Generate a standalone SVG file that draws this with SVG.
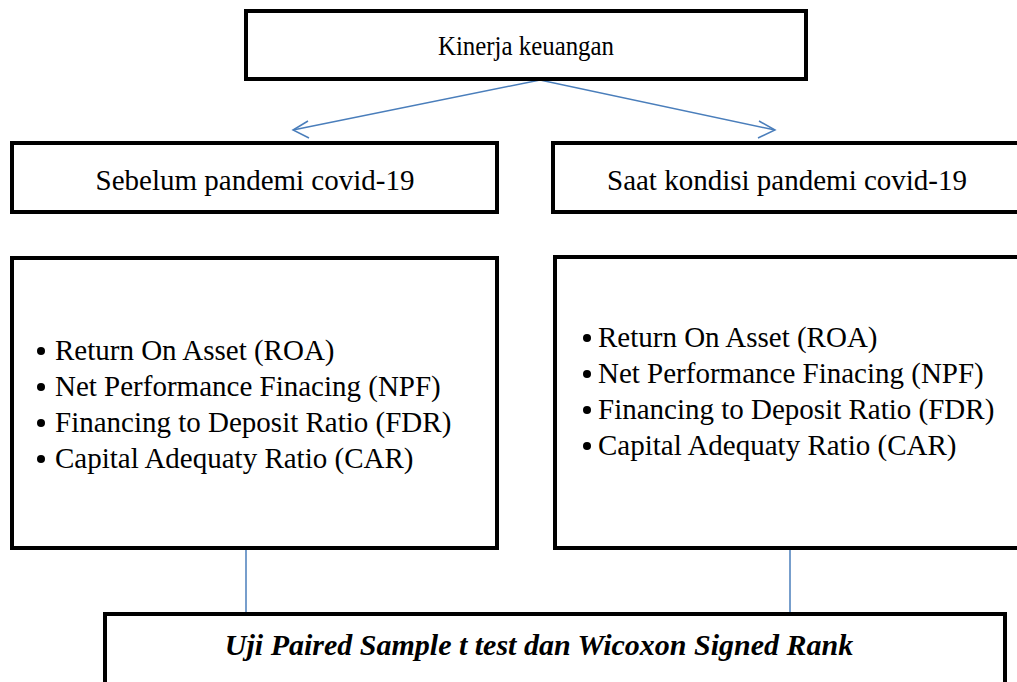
<svg xmlns="http://www.w3.org/2000/svg" width="1017" height="682" viewBox="0 0 1017 682">
<style>
.box{fill:#fff;stroke:#000;stroke-width:4}
.t{font-family:"Liberation Serif","Times New Roman",serif;fill:#000}
.c{stroke:#4a7ebb;stroke-width:1.5;fill:none}
</style>
<rect width="1017" height="682" fill="#fff"/>
<g id="connectors">
<polyline class="c" points="293,130 540,80 775,130"/>
<polyline class="c" points="308,121 293,130 309,138"/>
<polyline class="c" points="759,121 775,130 758,138"/>
<line class="c" x1="246" y1="548" x2="246" y2="613"/>
<line class="c" x1="790" y1="548" x2="790" y2="613"/>
</g>
<g id="kinerja">
<rect class="box" x="246" y="11" width="560" height="68"/>
<text class="t" x="526" y="55" font-size="27" text-anchor="middle" textLength="176" lengthAdjust="spacingAndGlyphs">Kinerja keuangan</text>
</g>
<g id="sebelum">
<rect class="box" x="12" y="143" width="485" height="69"/>
<text class="t" x="255" y="190" font-size="29" text-anchor="middle">Sebelum pandemi covid-19</text>
</g>
<g id="saat">
<rect class="box" x="553" y="143" width="470" height="69"/>
<text class="t" x="607" y="190" font-size="29">Saat kondisi pandemi covid-19</text>
</g>
<g id="indikator-sebelum">
<rect class="box" x="12" y="258" width="485" height="290"/>
<g class="t" font-size="29">
<circle cx="41" cy="351" r="4"/><text x="55" y="360">Return On Asset (ROA)</text>
<circle cx="41" cy="387" r="4"/><text x="55" y="396">Net Performance Finacing (NPF)</text>
<circle cx="41" cy="423" r="4"/><text x="55" y="432">Financing to Deposit Ratio (FDR)</text>
<circle cx="41" cy="459" r="4"/><text x="55" y="468">Capital Adequaty Ratio (CAR)</text>
</g>
</g>
<g id="indikator-saat">
<rect class="box" x="555" y="257" width="470" height="291"/>
<g class="t" font-size="29">
<circle cx="587" cy="338" r="4"/><text x="598" y="347">Return On Asset (ROA)</text>
<circle cx="587" cy="374" r="4"/><text x="598" y="383">Net Performance Finacing (NPF)</text>
<circle cx="587" cy="410" r="4"/><text x="598" y="419">Financing to Deposit Ratio (FDR)</text>
<circle cx="587" cy="446" r="4"/><text x="598" y="455">Capital Adequaty Ratio (CAR)</text>
</g>
</g>
<g id="uji">
<rect class="box" x="105" y="614" width="900" height="80"/>
<text class="t" x="539" y="655" font-size="30" font-weight="bold" font-style="italic" text-anchor="middle">Uji Paired Sample t test dan Wicoxon Signed Rank</text>
</g>
</svg>
